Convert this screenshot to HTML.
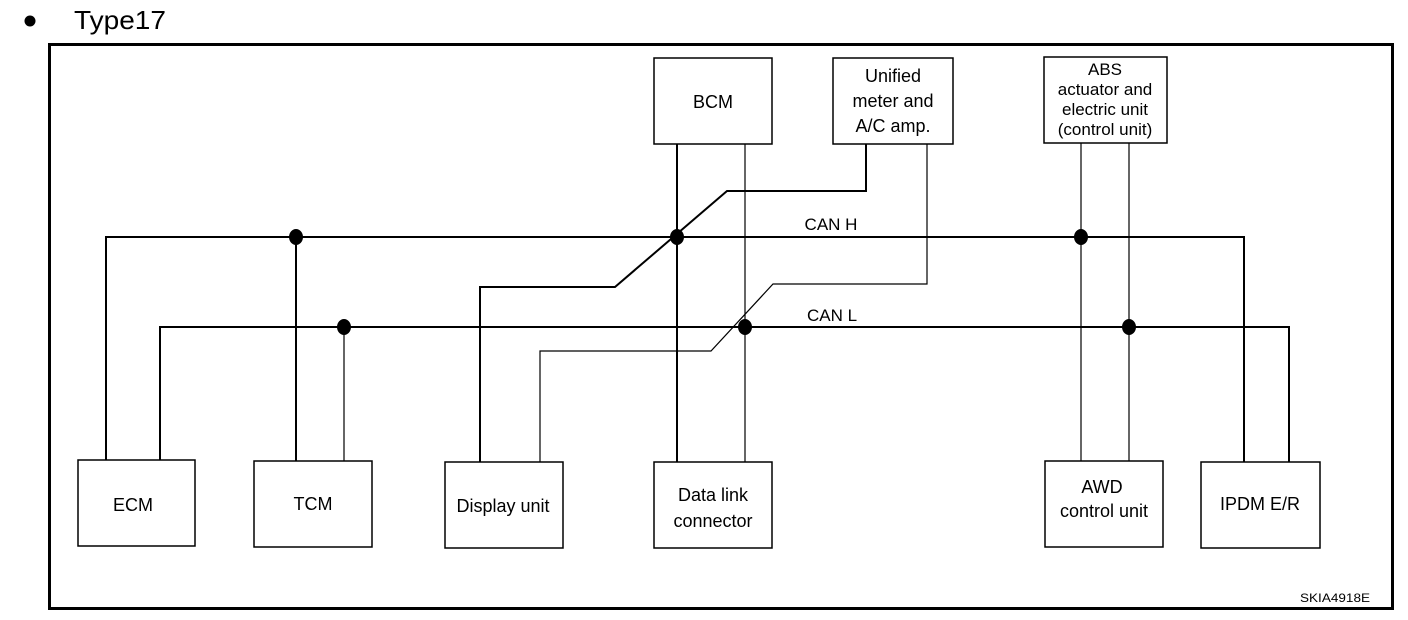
<!DOCTYPE html>
<html><head><meta charset="utf-8"><style>
html,body{margin:0;padding:0;background:#fff;width:1408px;height:620px;overflow:hidden}
text{font-family:"Liberation Sans",sans-serif;fill:#000}
</style></head><body>
<svg width="1408" height="620" viewBox="0 0 1408 620" xmlns="http://www.w3.org/2000/svg">
<circle cx="30" cy="21" r="5.5" fill="#000"/>
<text x="74" y="29" font-size="26" textLength="92" lengthAdjust="spacingAndGlyphs">Type17</text>
<rect x="49.5" y="44.5" width="1343" height="564" fill="none" stroke="#000" stroke-width="3"/>
<g fill="#fff" stroke="#000" stroke-width="1.5">
<rect x="654" y="58" width="118" height="86"/>
<rect x="833" y="58" width="120" height="86"/>
<rect x="1044" y="57" width="123" height="86"/>
<rect x="78" y="460" width="117" height="86"/>
<rect x="254" y="461" width="118" height="86"/>
<rect x="445" y="462" width="118" height="86"/>
<rect x="654" y="462" width="118" height="86"/>
<rect x="1045" y="461" width="118" height="86"/>
<rect x="1201" y="462" width="119" height="86"/>
</g>
<g fill="none" stroke="#000" stroke-width="2">
<polyline points="106,460 106,237 1244,237 1244,462"/>
<polyline points="160,460 160,327 1289,327 1289,462"/>
<line x1="296" y1="237" x2="296" y2="461"/>
<line x1="677" y1="144" x2="677" y2="462"/>
<polyline points="480,462 480,287 615,287 727,191 866,191 866,144"/>
</g>
<g fill="none" stroke="#000" stroke-width="1.2">
<line x1="344" y1="327" x2="344" y2="461"/>
<line x1="745" y1="144" x2="745" y2="462"/>
<polyline points="540,462 540,351 711,351 773,284 927,284 927,144"/>
<line x1="1081" y1="143" x2="1081" y2="461"/>
<line x1="1129" y1="143" x2="1129" y2="461"/>
</g>
<g fill="#000">
<ellipse cx="296" cy="237" rx="7" ry="8"/>
<ellipse cx="677" cy="237" rx="7" ry="8"/>
<ellipse cx="1081" cy="237" rx="7" ry="8"/>
<ellipse cx="344" cy="327" rx="7" ry="8"/>
<ellipse cx="745" cy="327" rx="7" ry="8"/>
<ellipse cx="1129" cy="327" rx="7" ry="8"/>
</g>
<g font-size="18" text-anchor="middle">
<text x="713" y="108">BCM</text>
<text x="893" y="82">Unified</text>
<text x="893" y="107">meter and</text>
<text x="893" y="132">A/C amp.</text>
<text x="1105" y="75" font-size="17">ABS</text>
<text x="1105" y="95" font-size="17">actuator and</text>
<text x="1105" y="115" font-size="17">electric unit</text>
<text x="1105" y="135" font-size="17">(control unit)</text>
<text x="133" y="511">ECM</text>
<text x="313" y="510">TCM</text>
<text x="503" y="512">Display unit</text>
<text x="713" y="501">Data link</text>
<text x="713" y="527">connector</text>
<text x="1102" y="493">AWD</text>
<text x="1104" y="517">control unit</text>
<text x="1260" y="510">IPDM E/R</text>
<text x="831" y="230" font-size="17">CAN H</text>
<text x="832" y="321" font-size="17">CAN L</text>
</g>
<text x="1300" y="602" font-size="12" textLength="70" lengthAdjust="spacingAndGlyphs">SKIA4918E</text>
</svg>
</body></html>
